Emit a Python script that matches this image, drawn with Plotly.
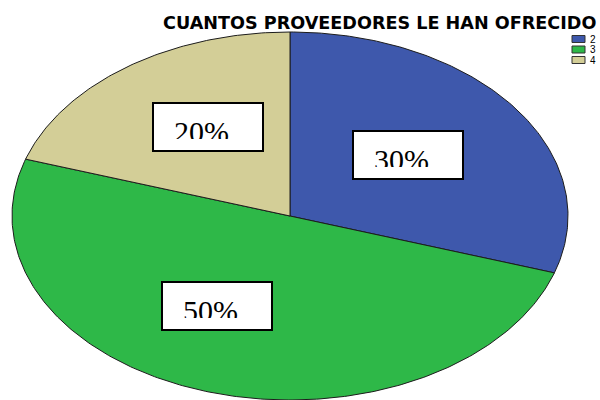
import numpy as np
import plotly.graph_objects as go

# Data
categories = ["2", "3", "4"]
counts = [30, 50, 20]
colors = ["#3E58AC", "#2EB848", "#D3CE97"]
title_text = "CUANTOS PROVEEDORES LE HAN OFRECIDO"

# Layout constants (pixel space: x 0..600, y 0..400 top-down)
CX, CY, RX, RY = 290, 216, 278, 184          # elliptical pie centre and radii
EDGE = "#1c1c1c"
BOX_W, BOX_H = 110, 48
label_boxes = {"2": (353, 131), "3": (162, 282), "4": (153, 103)}  # box top-left

total = sum(counts)
fig = go.Figure()

# Pie slices, clockwise from 12 o'clock, stretched into an ellipse
start = 0.0
for cat, val, col in zip(categories, counts, colors):
    frac = val / total
    t = np.linspace(start, start + frac, max(int(frac * 500), 10))
    ang = 2 * np.pi * t
    xs = np.concatenate([[CX], CX + RX * np.sin(ang), [CX]])
    ys = np.concatenate([[CY], CY - RY * np.cos(ang), [CY]])
    fig.add_trace(go.Scatter(
        x=xs, y=ys, mode="lines", fill="toself", fillcolor=col,
        line=dict(color=EDGE, width=1), name=cat,
        hoverinfo="text", text=f"{cat}: {frac * 100:.0f}%",
    ))
    start += frac

shapes = []
annotations = []

# Percentage label boxes
for cat, val in zip(categories, counts):
    bx, by = label_boxes[cat]
    shapes.append(dict(
        type="rect", xref="x", yref="y", layer="above",
        x0=bx, x1=bx + BOX_W, y0=by, y1=by + BOX_H,
        fillcolor="white", line=dict(color="black", width=2),
    ))
    annotations.append(dict(
        xref="x", yref="y", x=bx + 21, y=by + 11.5,
        xanchor="left", yanchor="top",
        text=f"{val / total * 100:.0f}%", showarrow=False,
        width=70, height=24, align="left", valign="top",
        borderpad=0, borderwidth=0,
        font=dict(family="Liberation Serif", size=30, color="black"),
    ))

# Title
annotations.append(dict(
    xref="x", yref="y", x=598, y=22.5, xanchor="right", yanchor="middle",
    text=f"<b>{title_text}</b>", showarrow=False,
    font=dict(family="DejaVu Sans", size=17.6, color="black"),
))

# Compact legend
for i, (cat, col) in enumerate(zip(categories, colors)):
    ly = 39 + i * 10.5
    shapes.append(dict(
        type="rect", xref="x", yref="y", layer="above",
        x0=572, x1=585, y0=ly - 3.5, y1=ly + 3.5,
        fillcolor=col, line=dict(color="#333333", width=1),
    ))
    annotations.append(dict(
        xref="x", yref="y", x=588, y=ly, xanchor="left", yanchor="middle",
        text=cat, showarrow=False,
        font=dict(family="Liberation Sans", size=10, color="black"),
    ))

fig.update_layout(
    width=600, height=400,
    margin=dict(l=0, r=0, t=0, b=0),
    paper_bgcolor="white", plot_bgcolor="white",
    showlegend=False,
    xaxis=dict(range=[0, 600], visible=False, fixedrange=True),
    yaxis=dict(range=[400, 0], visible=False, fixedrange=True),
    shapes=shapes, annotations=annotations,
)

fig.write_html("out.html")
